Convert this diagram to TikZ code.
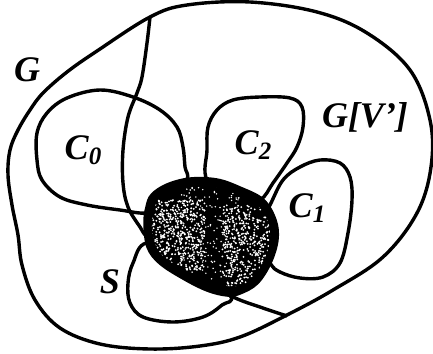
\documentclass[tikz,border=0pt]{standalone}
\usepackage{fontspec}
\setmainfont{Liberation Serif}
\newcommand{\sub}[1]{\raisebox{-0.3ex}{\fontsize{25}{25}\selectfont #1}}
\begin{document}
\begin{tikzpicture}[x=1pt,y=-1pt,
  curve/.style={line width=3.4pt,line join=round},
  lbl/.style={font=\fontsize{36}{36}\selectfont\bfseries\itshape,inner sep=0pt},
  speck/.style={fill=white},
]
\useasboundingbox (0,0) rectangle (433,353);

% outer graph G
\draw[curve] plot[smooth cycle,tension=0.6] coordinates {
  (150,17) (187,5) (250,2) (317,12) (367,33) (410,70) (430,120) (431,167)
  (417,213) (383,257) (333,290) (285,316) (240,337) (200,346) (150,349)
  (100,344) (60,328) (35,300) (22,265) (18,235) (12,205) (8,175) (10,150)
  (18,130) (30,110) (43,93) (67,72) (97,51)};

% boundary of G[V']
\draw[curve] plot[smooth,tension=0.6] coordinates {
  (150,17) (147,43) (142,77) (137,93) (128,117) (123,150) (123,183)
  (128,207) (140,227) (150,240) (190,275) (233,297) (260,307) (287,316)};

% components C0, C2, C1 and separator S
\draw[curve] plot[smooth cycle,tension=0.6] coordinates {
  (100,90) (133,97) (160,110) (177,127) (183,147) (185,167) (187,180)
  (170,205) (147,213) (120,210) (87,205) (60,197) (42,180) (37,160)
  (37,133) (47,113) (67,98)};
\draw[curve] plot[smooth cycle,tension=0.6] coordinates {
  (207,180) (207,150) (208,127) (217,110) (233,100) (260,97) (290,98)
  (302,107) (303,127) (297,147) (287,163) (273,183) (260,200) (235,205)};
\draw[curve] plot[smooth cycle,tension=0.6] coordinates {
  (270,205) (283,180) (300,167) (320,160) (340,163) (350,177) (352,200)
  (348,233) (340,263) (323,277) (300,278) (280,272) (270,263) (255,235)};
\draw[curve] plot[smooth cycle,tension=0.6] coordinates {
  (147,243) (133,263) (128,283) (130,303) (143,317) (173,322) (203,317)
  (222,305) (230,295) (190,255)};

% shaded separator
\fill[black] plot[smooth cycle,tension=0.6] coordinates {
  (152,195) (167,185) (190,179) (217,180) (240,188) (263,200) (275,220)
  (277,240) (270,263) (257,283) (240,293) (227,295) (207,290) (183,278)
  (160,263) (148,247) (145,223) (147,207)};
\begin{scope}
\clip plot[smooth cycle,tension=0.6] coordinates {
  (158,200) (172,192) (192,187) (217,188) (238,195) (258,206) (268,222)
  (270,240) (264,260) (252,278) (238,286) (210,283) (186,271) (164,257)
  (155,243) (152,222)};
\pgfmathsetseed{11}
\foreach \i in {1,...,500}{
  \pgfmathsetmacro\px{150+55*rnd}
  \pgfmathsetmacro\py{200+70*rnd}
  \fill[speck] (\px,\py) circle[radius=1pt];
}
\foreach \i in {1,...,450}{
  \pgfmathsetmacro\px{222+50*rnd}
  \pgfmathsetmacro\py{205+85*rnd}
  \fill[speck] (\px,\py) circle[radius=1pt];
}
\foreach \i in {1,...,200}{
  \pgfmathsetmacro\px{180+60*rnd}
  \pgfmathsetmacro\py{185+95*rnd}
  \fill[speck] (\px,\py) circle[radius=0.8pt];
}
\end{scope}
\draw[curve] plot[smooth cycle,tension=0.6] coordinates {
  (152,195) (167,185) (190,179) (217,180) (240,188) (263,200) (275,220)
  (277,240) (270,263) (257,283) (240,293) (227,295) (207,290) (183,278)
  (160,263) (148,247) (145,223) (147,207)};

% labels
\node[lbl] (G) at (27,70) {G};
\node[lbl] (C0) at (83,150) {C\sub{0}};
\node[lbl] (GV) at (365,117) {G[V']};
\node[lbl] (C2) at (253,145) {C\sub{2}};
\node[lbl] (C1) at (307,208) {C\sub{1}};
\node[lbl] (S) at (110,282) {S};
\end{tikzpicture}
\end{document}
